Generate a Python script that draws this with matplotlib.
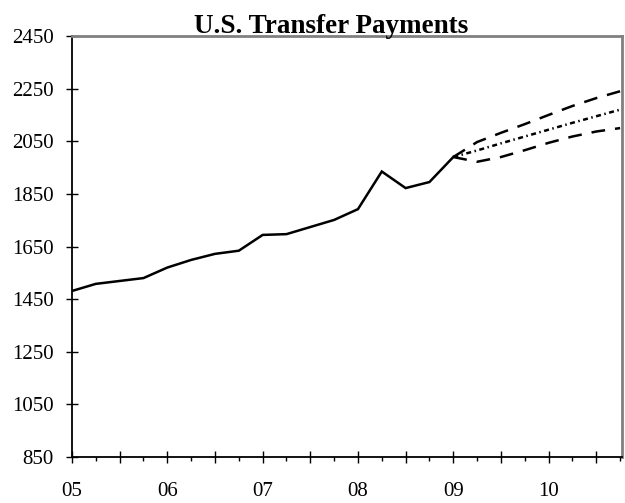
import numpy as np
import matplotlib
matplotlib.use("Agg")
import matplotlib.pyplot as plt
from matplotlib.ticker import FixedLocator, FixedFormatter

# Quarterly history (billions of dollars)
hist_quarters = [2005.0, 2005.25, 2005.5, 2005.75, 2006.0, 2006.25, 2006.5, 2006.75,
                 2007.0, 2007.25, 2007.5, 2007.75, 2008.0, 2008.25, 2008.5, 2008.75, 2009.0]
hist_values = [1481, 1508, 1519, 1530, 1570, 1599, 1622, 1634,
               1694, 1697, 1724, 1751, 1792, 1935, 1872, 1895, 1990]

# Forecast scenarios
fc_quarters = [2009.0, 2009.25, 2009.5, 2009.75, 2010.0, 2010.25, 2010.5, 2010.75]
fc_high = [1990, 2047, 2082, 2115, 2150, 2184, 2214, 2240]
fc_mid = [1990, 2015, 2042, 2068, 2094, 2120, 2145, 2170]
fc_low = [1990, 1972, 1990, 2016, 2044, 2068, 2087, 2100]

# Axis labels
year_ticks = [2005, 2006, 2007, 2008, 2009, 2010]
year_labels = ["05", "06", "07", "08", "09", "10"]
y_ticks = [850, 1050, 1250, 1450, 1650, 1850, 2050, 2250, 2450]

plt.rcParams['font.family'] = ['Liberation Serif', 'DejaVu Serif']

fig = plt.figure(figsize=(6.25, 5.03), dpi=100)
ax = fig.add_axes([72 / 625, 1 - 457 / 503, 550 / 625, 421 / 503])

ax.plot(hist_quarters, hist_values, color="black", lw=1.8, solid_joinstyle="miter")
ax.plot(fc_quarters, fc_high, color="black", lw=1.8, dashes=(5.5, 4.0))
ax.plot(fc_quarters, fc_low, color="black", lw=1.8, dashes=(5.5, 4.0))
ax.plot(fc_quarters, fc_mid, color="black", lw=1.8, dashes=(2.0, 1.4, 0.6, 1.4))

ax.set_xlim(2005.0, 2010.77)
ax.set_ylim(850, 2450)

# x axis: long ticks every half year, short ticks each quarter, labels on years
half_years = np.arange(2005.0, 2010.76, 0.5)
ax.xaxis.set_major_locator(FixedLocator(half_years))
ax.xaxis.set_major_formatter(FixedFormatter(
    [year_labels[int(h - 2005)] if h == int(h) else "" for h in half_years]))
ax.xaxis.set_minor_locator(FixedLocator(np.arange(2005.25, 2010.76, 0.5)))
ax.tick_params(axis="x", which="major", direction="inout", length=9, width=1,
               pad=13.5, labelsize=15)
ax.tick_params(axis="x", which="minor", direction="out", length=3, width=1)

ax.set_yticks(y_ticks)
ax.tick_params(axis="y", which="major", direction="inout", length=9, width=1,
               pad=8.5, labelsize=15)

for side in ["left", "bottom"]:
    ax.spines[side].set_color("black")
    ax.spines[side].set_linewidth(1.3)
for side in ["top", "right"]:
    ax.spines[side].set_color("#808080")
    ax.spines[side].set_linewidth(2)

fig.text(331 / 625, 1 - 33 / 503, "U.S. Transfer Payments", ha="center",
         va="baseline", fontsize=19.5, fontweight="bold")

fig.savefig("out.png", dpi=100)
